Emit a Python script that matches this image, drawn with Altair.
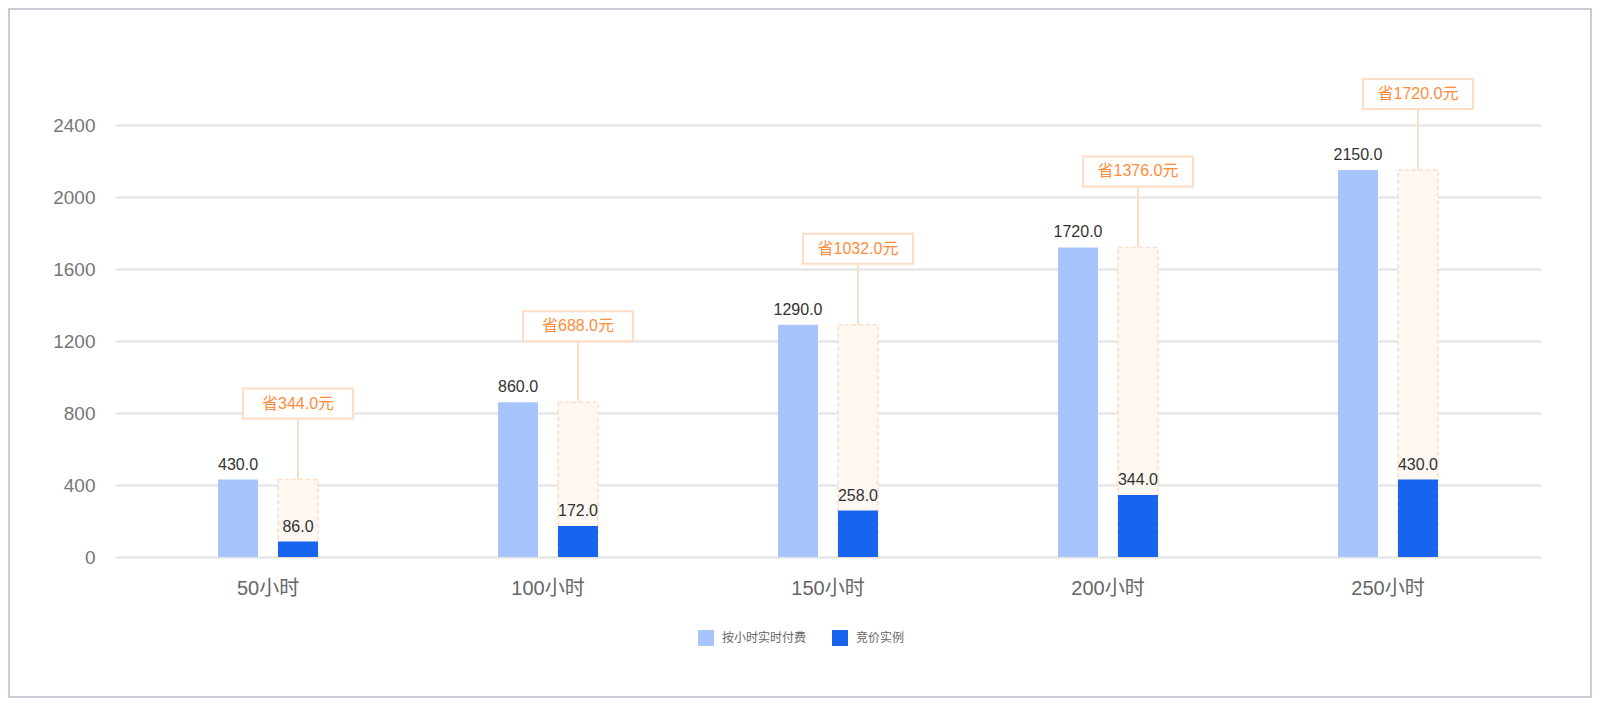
import altair as alt
import pandas as pd

hours = ["50小时", "100小时", "150小时", "200小时", "250小时"]
on_demand = [430.0, 860.0, 1290.0, 1720.0, 2150.0]
spot = [86.0, 172.0, 258.0, 344.0, 430.0]
savings = [344.0, 688.0, 1032.0, 1376.0, 1720.0]
series = ["按小时实时付费", "竞价实例"]
colors = ["#a7c5fd", "#1764ee"]
y_ticks = [0, 400, 800, 1200, 1600, 2000, 2400]

FONT = '"Liberation Sans", "Noto Sans CJK SC", sans-serif'

rows = []
for h, a, b in zip(hours, on_demand, spot):
    rows.append({"hour": h, "series": series[0], "value": a, "label": f"{a:.1f}"})
    rows.append({"hour": h, "series": series[1], "value": b, "label": f"{b:.1f}"})
long_df = pd.DataFrame(rows)

wide_df = pd.DataFrame({
    "hour": hours,
    "ondemand": on_demand,
    "series": [series[1]] * len(hours),
    "save": [f"省{s:.1f}元" for s in savings],
})

x_enc = alt.X("hour:N", sort=hours,
              scale=alt.Scale(paddingInner=0.643, paddingOuter=0.368),
              axis=alt.Axis(title=None, labelAngle=0, labelFontSize=20,
                            labelColor="#666666", labelPadding=21, ticks=False,
                            domain=False, grid=False, labelFont=FONT))
xo_enc = alt.XOffset("series:N", sort=series,
                     scale=alt.Scale(domain=series, paddingInner=1/3, paddingOuter=0))
y_scale = alt.Scale(domain=[0, 2400], nice=False)

base_long = alt.Chart(long_df)
base_wide = alt.Chart(wide_df)

ghost = base_wide.mark_bar(fill="#fff7f1", stroke="#ffdcc6", strokeWidth=1.5,
                           strokeDash=[4, 3]).encode(
    x=x_enc, xOffset=xo_enc,
    y=alt.Y("ondemand:Q", scale=y_scale,
            axis=alt.Axis(title=None, values=y_ticks, format="d", labelFontSize=19,
                          labelColor="#777777", labelPadding=20, ticks=False,
                          domain=False, gridColor="#e2e2e2", gridWidth=2,
                          labelFont=FONT)),
)

bars = base_long.mark_bar().encode(
    x=x_enc, xOffset=xo_enc,
    y=alt.Y("value:Q", scale=y_scale),
    color=alt.Color("series:N", sort=series,
                    scale=alt.Scale(domain=series, range=colors),
                    legend=alt.Legend(title=None, orient="none", direction="horizontal",
                                      legendX=583, legendY=505, symbolType="square",
                                      symbolSize=256, symbolStrokeWidth=0,
                                      labelFontSize=12, labelColor="#666666",
                                      labelOffset=8, columnPadding=25, padding=0,
                                      labelFont=FONT)),
)

labels = base_long.mark_text(baseline="bottom", dy=-7, fontSize=16, color="#333333",
                             font=FONT).encode(
    x=x_enc, xOffset=xo_enc,
    y=alt.Y("value:Q", scale=y_scale),
    text="label:N",
)

connector = base_wide.mark_rule(color="#ffdcc6", strokeWidth=2, y2Offset=-76).encode(
    x=x_enc, xOffset=xo_enc,
    y=alt.Y("ondemand:Q", scale=y_scale),
    y2="ondemand:Q",
)

box = base_wide.mark_point(
    shape="M-1,-0.2727L1,-0.2727L1,0.2727L-1,0.2727Z",
    size=12100, filled=False, fill="white", fillOpacity=1,
    stroke="#ffdcc6", strokeWidth=2, opacity=1, yOffset=-76,
).encode(
    x=x_enc, xOffset=xo_enc,
    y=alt.Y("ondemand:Q", scale=y_scale),
)

box_text = base_wide.mark_text(baseline="middle", dy=-76, fontSize=16,
                               color="#ff8c3c", font=FONT).encode(
    x=x_enc, xOffset=xo_enc,
    y=alt.Y("ondemand:Q", scale=y_scale),
    text="save:N",
)

frame = alt.Chart(pd.DataFrame({"k": [0]})).mark_rect(
    fill=None, stroke="#cbcbd8", strokeWidth=2
).encode(
    x=alt.value(-106), x2=alt.value(1476),
    y=alt.value(-116), y2=alt.value(572),
)

chart = alt.layer(
    frame, ghost, bars, labels, connector, box, box_text
).properties(
    width=1426, height=432,
    autosize=alt.AutoSizeParams(type="none"),
    padding={"left": 107, "top": 117, "right": 51, "bottom": 141},
    background="white",
).configure_view(stroke=None)

chart.save("out.html", embed_options={"renderer": "svg", "actions": False})
